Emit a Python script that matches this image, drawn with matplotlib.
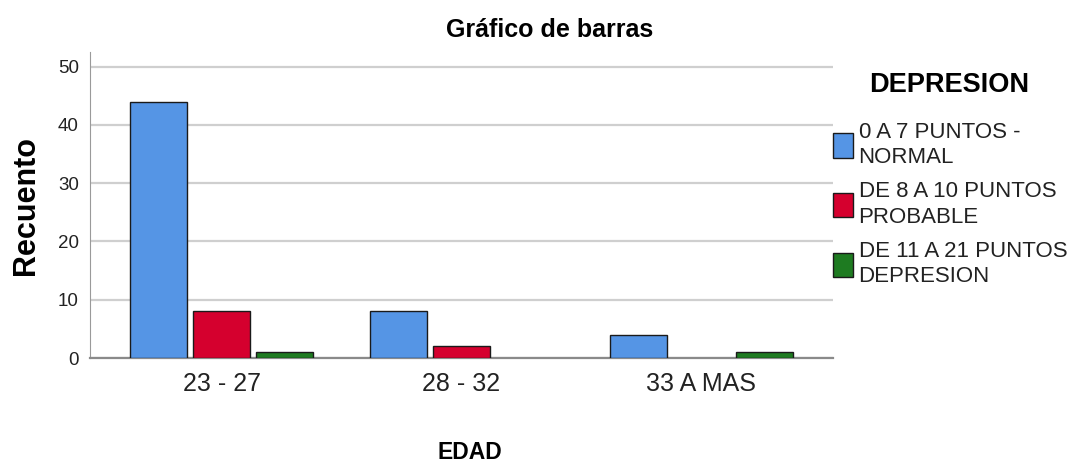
import matplotlib
matplotlib.use("Agg")
import matplotlib.pyplot as plt
import numpy as np

plt.rcParams["font.family"] = ["Liberation Sans", "DejaVu Sans"]

categories = ["23 - 27", "28 - 32", "33 A MAS"]
series = ["0 A 7 PUNTOS -\nNORMAL", "DE 8 A 10 PUNTOS\nPROBABLE", "DE 11 A 21 PUNTOS\nDEPRESION"]
normal = [44, 8, 4]
probable = [8, 2, 0]
depresion = [1, 0, 1]
colors = ["#5595E5", "#D5002E", "#1E7B21"]

fig = plt.figure(figsize=(10.7, 4.65), dpi=100)
ax = fig.add_axes([0.0841, 0.2301, 0.6944, 0.6580])

x = np.arange(len(categories))
width = 0.2375
step = 0.2625
handles = []
for i, (vals, lab, col) in enumerate(zip([normal, probable, depresion], series, colors)):
    b = ax.bar(x + (i - 1) * step, vals, width, color=col, edgecolor="#1a1a1a",
               linewidth=1.0, label=lab, zorder=3)
    # SPSS leaves empty cells blank, no flat outline
    for p in b.patches:
        if p.get_height() == 0:
            p.set_visible(False)
    handles.append(b)

ax.set_xlim(-0.55, 2.55)
ax.set_ylim(0, 52.5)
ax.set_yticks([0, 10, 20, 30, 40, 50])
ax.yaxis.grid(True, color="#cfcfcf", linewidth=1.6, zorder=0)
ax.set_axisbelow(True)
for s in ["top", "right"]:
    ax.spines[s].set_visible(False)
ax.spines["left"].set_color("#9a9a9a")
ax.spines["bottom"].set_color("#8a8a8a")
ax.spines["bottom"].set_linewidth(1.6)
ax.tick_params(axis="y", length=0, labelsize=13.5, pad=8, colors="#222222")
ax.tick_params(axis="x", length=0, labelsize=18, pad=10, colors="#222222")
ax.set_xticks(x)
ax.set_xticklabels(categories)

ax.set_ylabel("Recuento", fontsize=22, fontweight="bold", labelpad=12)
fig.text(0.439, 0.026, "EDAD", ha="center", va="center",
         fontsize=16.5, fontweight="bold")
fig.text(0.514, 0.935, "Gráfico de barras", ha="center", va="center",
         fontsize=18, fontweight="bold")
fig.text(0.887, 0.817, "DEPRESION", ha="center", va="center",
         fontsize=19.5, fontweight="bold")

leg = ax.legend(handles=handles, labels=series, loc="upper left",
                bbox_to_anchor=(1.0, 0.772), frameon=False, fontsize=16,
                handlelength=0.9, handleheight=1.3, handletextpad=0.25,
                labelspacing=0.6, borderaxespad=0.0, borderpad=0.0)
for t in leg.get_texts():
    t.set_linespacing(1.27)
    t.set_color("#222222")

fig.savefig("out.png", dpi=100)
